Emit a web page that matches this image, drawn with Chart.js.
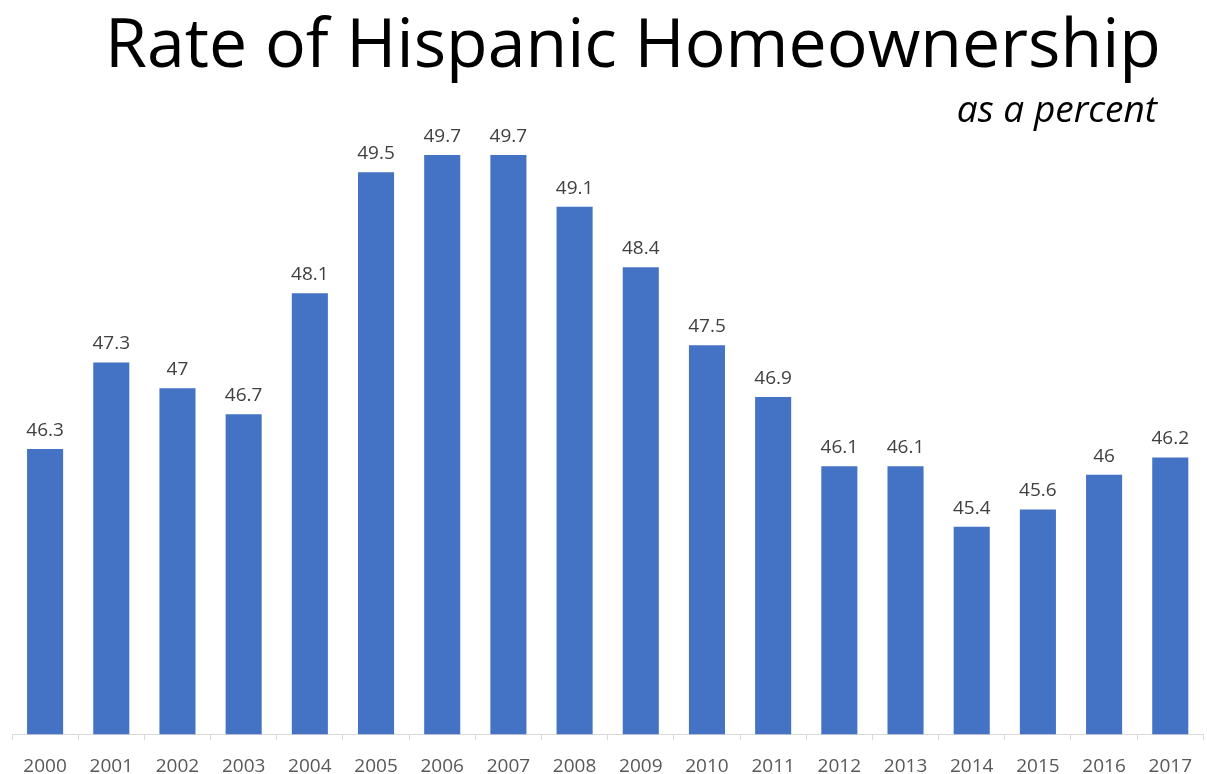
<!DOCTYPE html>
<html>
<head>
<meta charset="utf-8">
<script src="https://cdn.jsdelivr.net/npm/chart.js@4"></script>
<style>
  html, body { margin: 0; padding: 0; background: #fff; overflow: hidden; }
  #wrap { width: 1207px; height: 793px; }
</style>
</head>
<body>
<div id="wrap"><canvas id="chart"></canvas></div>
<script>
  const years = ['2000', '2001', '2002', '2003', '2004', '2005', '2006', '2007', '2008',
    '2009', '2010', '2011', '2012', '2013', '2014', '2015', '2016', '2017'];
  const rates = [46.3, 47.3, 47, 46.7, 48.1, 49.5, 49.7, 49.7, 49.1,
    48.4, 47.5, 46.9, 46.1, 46.1, 45.4, 45.6, 46, 46.2];
  const titleText = 'Rate of Hispanic Homeownership';
  const subtitleText = 'as a percent';

  const fontFamily = '"Open Sans", sans-serif';

  // title, subtitle and value labels drawn by hand
  const textPlugin = {
    id: 'texts',
    afterDraw(chart) {
      const c = chart.ctx;
      c.save();
      c.fillStyle = '#000';
      c.textBaseline = 'alphabetic';
      c.textAlign = 'center';
      c.font = '68px ' + fontFamily;
      c.fillText(titleText, 633, 67);
      c.textAlign = 'right';
      c.font = 'italic 37px ' + fontFamily;
      c.fillText(subtitleText, 1157, 122);

      c.fillStyle = '#404040';
      c.textAlign = 'center';
      c.textBaseline = 'bottom';
      c.font = '19px ' + fontFamily;
      const meta = chart.getDatasetMeta(0);
      meta.data.forEach((bar, i) => {
        c.fillText(String(rates[i]), bar.x, bar.y - 9);
      });
      c.restore();
    }
  };

  const ctx = document.getElementById('chart');

  new Chart(ctx, {
    type: 'bar',
    data: {
      labels: years,
      datasets: [{
        data: rates,
        backgroundColor: '#4472c4',
        borderWidth: 0,
        barPercentage: 0.545,
        categoryPercentage: 1
      }]
    },
    options: {
      responsive: true,
      maintainAspectRatio: false,
      animation: false,
      layout: {
        padding: { top: 129, left: 12, right: 0, bottom: 0 }
      },
      plugins: {
        legend: { display: false },
        tooltip: { enabled: false }
      },
      scales: {
        y: {
          display: false,
          min: 43,
          max: 50
        },
        x: {
          border: { color: '#d9d9d9', width: 1 },
          grid: {
            offset: true,
            drawOnChartArea: false,
            drawTicks: true,
            tickLength: 6,
            color: '#d9d9d9'
          },
          ticks: {
            color: '#595959',
            padding: 15,
            maxRotation: 0,
            font: { family: fontFamily, size: 19 }
          }
        }
      }
    },
    plugins: [textPlugin]
  });
</script>
</body>
</html>
